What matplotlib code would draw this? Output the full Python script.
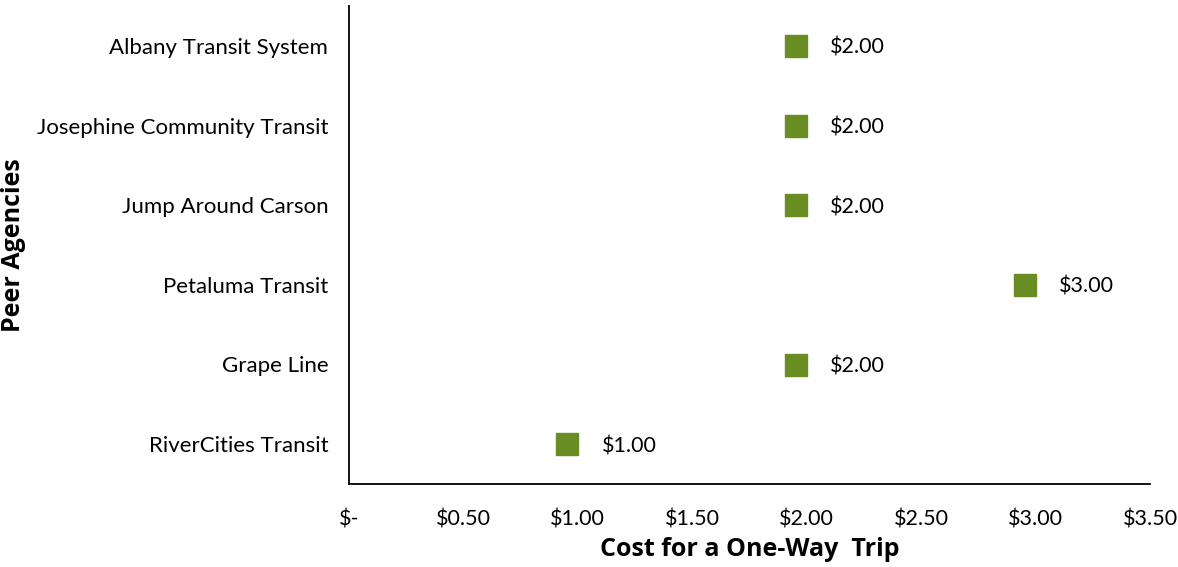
import matplotlib.pyplot as plt
import matplotlib.transforms as mtransforms

agencies = ['Albany Transit System', 'Josephine Community Transit', 'Jump Around Carson',
            'Petaluma Transit', 'Grape Line', 'RiverCities Transit']
fares = [2.00, 2.00, 2.00, 3.00, 2.00, 1.00]
xticks = [0, 0.5, 1.0, 1.5, 2.0, 2.5, 3.0, 3.5]
xtick_labels = ['$-', '$0.50', '$1.00', '$1.50', '$2.00', '$2.50', '$3.00', '$3.50']

fig = plt.figure(figsize=(11.78, 5.67), dpi=100)
ax = fig.add_axes([349 / 1178, 1 - 484 / 567, (1150 - 349) / 1178, (484 - 6) / 567])

ypos = list(range(len(agencies)))[::-1]
# markers sit slightly left of their value, as in the original
shifted = mtransforms.offset_copy(ax.transData, fig=fig, x=-11, y=0, units='dots')
ax.plot(fares, ypos, linestyle='none', marker='s', markersize=15.5,
        color='#678d23', markeredgecolor='#678d23', transform=shifted)

for x, y in zip(fares, ypos):
    ax.annotate('${:.2f}'.format(x), (x, y), xytext=(17, 0), textcoords='offset points',
                va='center_baseline', ha='left', fontsize=15.5, family='Lato')

ax.set_xlim(0, 3.5)
ax.set_ylim(-0.5, 5.5)
ax.set_yticks(ypos)
ax.set_yticklabels(agencies, fontsize=16, family='Lato')
ax.set_xticks(xticks)
ax.set_xticklabels(xtick_labels, fontsize=15.5, family='Lato')
ax.tick_params(length=0)
ax.tick_params(axis='y', pad=15)
ax.tick_params(axis='x', pad=18)
ax.spines['top'].set_visible(False)
ax.spines['right'].set_visible(False)
ax.spines['left'].set_linewidth(1.3)
ax.spines['bottom'].set_linewidth(1.3)

ax.set_xlabel('Cost for a One-Way  Trip', fontsize=18, fontweight='bold', family='Open Sans', labelpad=6)
fig.text(14 / 1178, 1 - 245 / 567, 'Peer Agencies', rotation=90, ha='center', va='center',
         fontsize=18, fontweight='bold', family='Open Sans')

fig.savefig('out.png', dpi=100)
